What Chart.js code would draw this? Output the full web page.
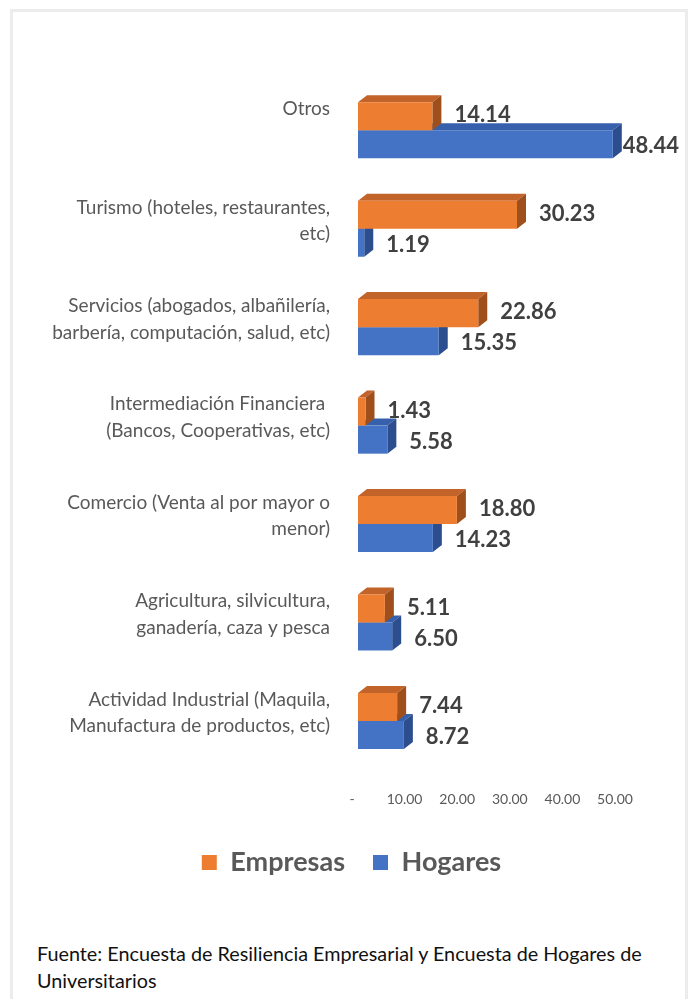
<!DOCTYPE html>
<html>
<head>
<meta charset="utf-8">
<script src="https://cdn.jsdelivr.net/npm/chart.js@4"></script>
<style>
  body { margin: 0; background: #fff; width: 689px; height: 999px; overflow: hidden; position: relative; font-family: Lato, sans-serif; }
  #frame { position: absolute; left: 10px; top: 9px; width: 672px; height: 1010px; border: 3px solid #ececec; }
  #wrap { position: absolute; left: 0; top: 0; width: 689px; height: 896px; }
  #fuente { position: absolute; left: 37px; top: 940px; font-size: 19.8px; line-height: 27px; color: #111; width: 625px; }
</style>
</head>
<body>
<div id="frame"></div>
<div id="wrap"><canvas id="bar"></canvas></div>
<div id="fuente">Fuente: Encuesta de Resiliencia Empresarial y Encuesta de Hogares de Universitarios</div>
<script>
const categories = [
  ['Otros', ''],
  ['Turismo (hoteles, restaurantes,', 'etc)'],
  ['Servicios (abogados, albañilería,', 'barbería, computación, salud, etc)'],
  ['Intermediación Financiera ', '(Bancos, Cooperativas, etc)'],
  ['Comercio (Venta al por mayor o', 'menor)'],
  ['Agricultura, silvicultura,', 'ganadería, caza y pesca'],
  ['Actividad Industrial (Maquila,', 'Manufactura de productos, etc)']
];
const empresas = [14.14, 30.23, 22.86, 1.43, 18.80, 5.11, 7.44];
const hogares = [48.44, 1.19, 15.35, 5.58, 14.23, 6.50, 8.72];
const xTicks = [0, 10, 20, 30, 40, 50];

const dx = 9, dy = 7;
const faces = [
  { top: '#c2632a', side: '#9f4f1c' },
  { top: '#3760ac', side: '#2c4e8e' }
];

const bar3d = {
  id: 'bar3d',
  beforeDatasetDraw(chart, args) {
    const ctx = chart.ctx;
    const c = faces[args.index];
    args.meta.data.forEach(bar => {
      const p = bar.getProps(['x', 'y', 'base', 'height'], true);
      const top = p.y - p.height / 2, bottom = p.y + p.height / 2;
      ctx.save();
      ctx.fillStyle = c.top;
      ctx.beginPath();
      ctx.moveTo(p.base, top);
      ctx.lineTo(p.base + dx, top - dy);
      ctx.lineTo(p.x + dx, top - dy);
      ctx.lineTo(p.x, top);
      ctx.closePath();
      ctx.fill();
      ctx.fillStyle = c.side;
      ctx.beginPath();
      ctx.moveTo(p.x, top);
      ctx.lineTo(p.x + dx, top - dy);
      ctx.lineTo(p.x + dx, bottom - dy);
      ctx.lineTo(p.x, bottom);
      ctx.closePath();
      ctx.fill();
      ctx.restore();
    });
  }
};

const valueLabels = {
  id: 'valueLabels',
  afterDatasetsDraw(chart) {
    const ctx = chart.ctx;
    ctx.save();
    ctx.font = 'bold 22px Lato';
    ctx.fillStyle = '#404040';
    ctx.textBaseline = 'middle';
    ctx.textAlign = 'left';
    chart.data.datasets.forEach((ds, di) => {
      chart.getDatasetMeta(di).data.forEach((bar, i) => {
        const p = bar.getProps(['x', 'y'], true);
        const txt = ds.data[i].toFixed(2);
        const w = ctx.measureText(txt).width;
        const tx = Math.min(p.x + dx + 13, 679 - w);
        ctx.fillText(txt, tx, p.y + (di === 0 ? -1 : 2));
      });
    });
    ctx.restore();
  }
};

// legend sits centred under the whole frame, not under the plot
const legendShift = {
  id: 'legendShift',
  afterLayout(chart) {
    chart.legend.left += 41;
    chart.legend.right += 41;
  }
};

new Chart(document.getElementById('bar'), {
  type: 'bar',
  data: {
    labels: categories,
    datasets: [
      { label: 'Empresas', data: empresas, backgroundColor: '#ed7d31', borderWidth: 0, clip: false },
      { label: 'Hogares', data: hogares, backgroundColor: '#4472c4', borderWidth: 0, clip: false }
    ]
  },
  options: {
    indexAxis: 'y',
    responsive: true,
    maintainAspectRatio: false,
    animation: false,
    categoryPercentage: 0.57,
    barPercentage: 1,
    layout: { padding: { top: 81, right: 68, left: 0, bottom: 10 } },
    plugins: {
      tooltip: { enabled: false },
      legend: {
        position: 'bottom',
        labels: {
          color: '#595959',
          font: { family: 'Lato', size: 27, weight: 'bold' },
          boxWidth: 15,
          boxHeight: 15,
          padding: 28
        }
      }
    },
    scales: {
      x: {
        min: 0,
        max: 50,
        afterBuildTicks: s => { s.ticks = xTicks.map(v => ({ value: v })); },
        grid: { display: false },
        border: { display: false },
        ticks: {
          color: '#595959',
          font: { family: 'Lato', size: 14 },
          labelOffset: -6,
          padding: 13,
          callback: v => v === 0 ? '-' : v.toFixed(2)
        }
      },
      y: {
        grid: { display: false },
        border: { display: false },
        afterFit: s => { s.width = 358; },
        ticks: {
          color: '#595959',
          font: { family: 'Lato', size: 19, lineHeight: 1.4 },
          padding: 20,
          labelOffset: -8
        }
      }
    }
  },
  plugins: [bar3d, valueLabels, legendShift]
});
</script>
</body>
</html>
